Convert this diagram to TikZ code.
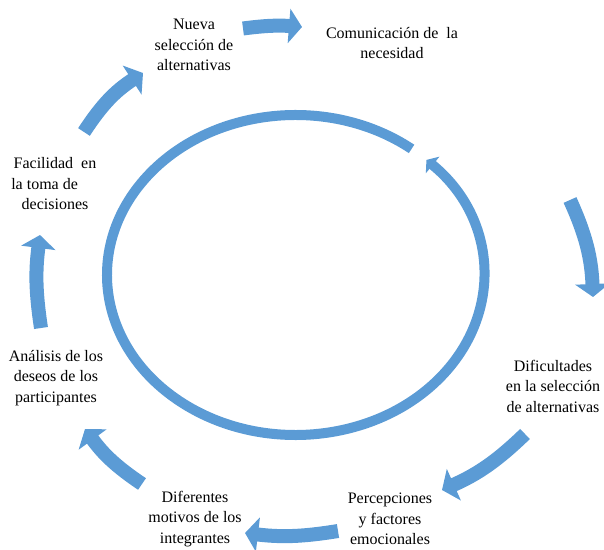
\documentclass[tikz,border=0pt]{standalone}
\usepackage{fontspec}
\setmainfont{Liberation Serif}
\usetikzlibrary{arrows.meta}
\definecolor{bleu}{HTML}{5B9BD5}
\tikzset{
  fleche/.style={draw=bleu, line width=14pt, -{Triangle[width=34pt,length=13pt]}},
  anneau/.style={draw=bleu, line width=10pt, -{Triangle[width=21pt,length=8pt]}},
  texte/.style={align=center, font=\fontsize{16}{20.5}\selectfont, inner sep=0pt}
}
\begin{document}
\begin{tikzpicture}[x=1pt,y=1pt]
    \useasboundingbox (0,0) rectangle (604,549);
    % Textes autour du cercle
    \node[texte] (nueva) at (194,504) {Nueva\\selección de\\alternativas};
    \node[texte] (comunicacion) at (392,506) {Comunicación de\ \ la\\necesidad};
    \node[texte] (dificultades) at (553,163) {Dificultades\\en la selección\\de alternativas};
    \node[texte] (percepciones) at (390,30) {Percepciones\\y factores\\emocionales};
    \node[texte] (diferentes) at (195,30) {Diferentes\\motivos de los\\integrantes};
    \node[texte] (analisis) at (56,171) {Análisis de los\\deseos de los\\participantes};
    \node[texte] (facilidad) at (55,365) {Facilidad\ \ en\\la toma de\hspace{1.3em}\mbox{}\\decisiones};
    % Cercle central (ouvert en haut a droite)
    \coordinate (ctr) at (295.5,274);
    \draw[anneau] ([shift={(52:188.5 and 160)}]ctr) arc[start angle=52, end angle=406, x radius=188.5, y radius=160];
    % Extremites des fleches exterieures
    \coordinate (d1) at (243,520.5); \coordinate (f1) at (302,522);
    \coordinate (d2) at (570,349);   \coordinate (f2) at (593,252);
    \coordinate (d3) at (525,115);   \coordinate (f3) at (442,59);
    \coordinate (d4) at (338,18);    \coordinate (f4) at (245,16);
    \coordinate (d5) at (142,65);    \coordinate (f5) at (85,120);
    \coordinate (d6) at (41,221);    \coordinate (f6) at (40,314);
    \coordinate (d7) at (84,417);    \coordinate (f7) at (143,476);
    % Fleches courbes
    \foreach \i/\b in {1/6,2/11,3/10,4/8,5/10,6/8,7/12} {
        \draw[fleche] (d\i) to[bend left=\b] (f\i);}
\end{tikzpicture}
\end{document}
